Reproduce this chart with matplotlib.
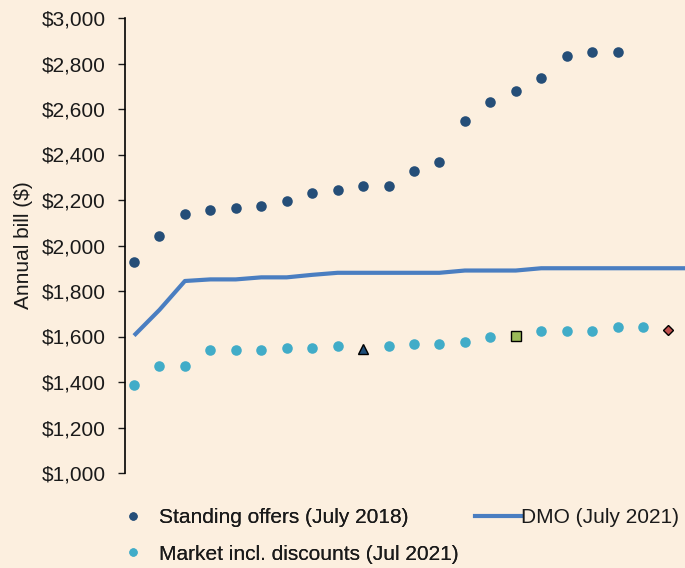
import matplotlib
matplotlib.use("Agg")
import matplotlib.pyplot as plt
from matplotlib.lines import Line2D
import numpy as np

plt.rcParams['font.family'] = ['Liberation Sans', 'DejaVu Sans']

# Data (category index along x; no x labels in the original)
standing_offers = [1928, 2042, 2138, 2156, 2165, 2174, 2196, 2231, 2244, 2262,
                   2262, 2327, 2367, 2547, 2631, 2679, 2736, 2833, 2851, 2851]
market_offers = [1387, 1472, 1472, 1539, 1539, 1539, 1548, 1548, 1557, None,
                 1558, 1567, 1567, 1577, 1596, None, 1625, 1625, 1625, 1643, 1643, None]
dmo = [1604, 1717, 1844, 1851, 1851, 1860, 1860, 1871, 1880, 1880, 1880, 1880,
       1880, 1890, 1890, 1890, 1900, 1900, 1900, 1900, 1900, 1900, 1900]
triangle_idx, triangle_val = 9, 1544
square_idx, square_val = 15, 1601
diamond_idx, diamond_val = 21, 1629

yticks = [1000, 1200, 1400, 1600, 1800, 2000, 2200, 2400, 2600, 2800, 3000]

BG = '#FCEFDF'
C_STAND = '#254E78'
C_DMO = '#4A7EC1'
C_MKT = '#41ACC8'
FS = 15

fig = plt.figure(figsize=(6.85, 5.68), dpi=100, facecolor=BG)
ax = fig.add_axes([125/685, 1-473/568, 1-125/685, (473-18)/568])
ax.set_facecolor(BG)

x_st = np.arange(len(standing_offers))
x_mk = np.arange(len(market_offers))
mk = np.array([np.nan if v is None else v for v in market_offers], dtype=float)
x_dmo = np.arange(len(dmo))

ax.plot(x_dmo, dmo, color=C_DMO, lw=3.0, solid_capstyle='butt', clip_on=True, zorder=2)
ax.plot(x_st, standing_offers, 'o', color=C_STAND, ms=7.6, mew=0, zorder=3)
ax.plot(x_mk, mk, 'o', color=C_MKT, ms=7.6, mew=0, zorder=3)
ax.plot([triangle_idx], [triangle_val], '^', color='#1F4E79', mec='black', mew=1.0, ms=6.5, zorder=4)
ax.plot([square_idx], [square_val], 's', color='#9BBB59', mec='black', mew=1.0, ms=6.5, zorder=4)
ax.plot([diamond_idx], [diamond_val], 'D', color='#C0504D', mec='black', mew=1.0, ms=5, zorder=4)

ax.set_xlim(-0.354, 21.65)
ax.set_ylim(1000, 3000)
ax.set_yticks(yticks)
ax.set_yticklabels([f'${v:,}' for v in yticks], fontsize=FS)
ax.tick_params(axis='y', direction='out', length=5, width=1, pad=9, colors='#1a1a1a')
ax.set_xticks([])
for s in ['top', 'right', 'bottom']:
    ax.spines[s].set_visible(False)
ax.spines['left'].set_linewidth(1.2)
ax.spines['left'].set_color('black')
ax.set_ylabel('Annual bill ($)', fontsize=FS, color='#1a1a1a')
ax.yaxis.set_label_coords((33 - 125) / 560, 0.5)

h1 = Line2D([], [], ls='none', marker='o', color=C_STAND, ms=6, mew=0)
h2 = Line2D([], [], ls='none', marker='o', color=C_MKT, ms=6, mew=0)
h3 = Line2D([], [], color=C_DMO, lw=3)

leg1 = fig.legend([h1, h2], ['Standing offers (July 2018)', 'Market incl. discounts (Jul 2021)'],
                  loc='upper left', bbox_to_anchor=(124.7/685, 1-508/568), frameon=False,
                  fontsize=FS, handlelength=0.8, handletextpad=0.85, labelspacing=0.85,
                  borderaxespad=0, borderpad=0)
for t in leg1.get_texts():
    t.set_color('#1a1a1a')
fig.add_artist(leg1)
leg2 = fig.legend([h3], ['DMO (July 2021)'], loc='upper left',
                  bbox_to_anchor=(475/685, 1-508/568), frameon=False, fontsize=FS,
                  handlelength=2.2, handletextpad=0.0, borderaxespad=0, borderpad=0)
for t in leg2.get_texts():
    t.set_color('#1a1a1a')

fig.savefig('out.png', dpi=100, facecolor=BG)
